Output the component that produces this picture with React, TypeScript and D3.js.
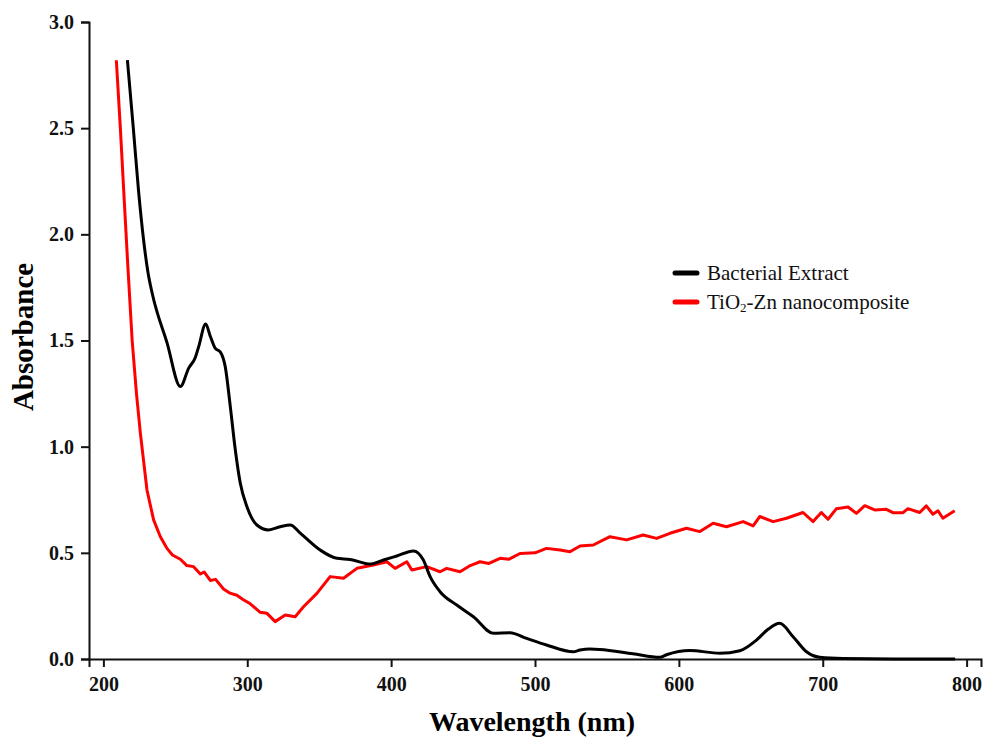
import React, { useEffect, useRef } from "react";
import * as d3 from "d3";

// Bacterial Extract (black)
const extractNm = [216.7, 220.8, 224.5, 228, 231, 234, 244.2, 253.5, 259.3, 263.9, 266.2, 271.1, 274.3, 277.8, 281.2, 284.7, 288.2, 291.7, 295.1, 299.8, 306.7, 314.8, 322.9, 329.9, 336.8, 350.7, 362.3, 371.5, 385.4, 394.7, 403.9, 415.5, 422.4, 427.1, 434, 445.6, 457.2, 471, 482.6, 494.2, 508, 526.6, 531.3, 538, 545, 568, 586.8, 591.4, 607.6, 628.5, 642.4, 653.9, 662, 670.1, 679.4, 688.7, 697.9, 714, 750, 792];
const extractAbs = [2.82, 2.5, 2.2, 1.97, 1.82, 1.72, 1.49, 1.283, 1.37, 1.42, 1.47, 1.578, 1.52, 1.463, 1.447, 1.377, 1.19, 0.984, 0.83, 0.717, 0.631, 0.608, 0.623, 0.631, 0.593, 0.513, 0.474, 0.469, 0.447, 0.466, 0.485, 0.509, 0.466, 0.388, 0.317, 0.254, 0.199, 0.121, 0.124, 0.097, 0.066, 0.034, 0.042, 0.047, 0.045, 0.025, 0.008, 0.02, 0.04, 0.027, 0.039, 0.089, 0.14, 0.168, 0.105, 0.034, 0.008, 0.002, 0, 0];

// TiO2-Zn nanocomposite (red)
const compositeNm = [209, 211.8, 214.5, 217, 220, 223, 225.7, 230.3, 234.9, 239.6, 244.2, 248, 253.5, 258, 262.7, 267.4, 270, 274.3, 278, 283.5, 288, 292.8, 297, 302.1, 309, 313.7, 319.4, 326.4, 333.3, 339.1, 348.4, 357.6, 366.9, 376.2, 387.7, 397, 402.8, 410.9, 414.4, 424.7, 434, 438.6, 447.9, 455, 461.8, 468, 475.7, 482, 489.6, 500, 508, 517.4, 524.3, 531.3, 540.5, 552.1, 563.7, 575.2, 584.5, 593.8, 605.3, 614.6, 623.8, 633.1, 644.7, 651.6, 656.2, 665.5, 674.8, 686.3, 693.3, 699, 703.7, 709.5, 717.6, 723.4, 729.2, 736.1, 744.2, 748.8, 755.8, 759.2, 767.4, 772, 776.6, 780.1, 783.5, 791.7];
const compositeAbs = [2.82, 2.5, 2.16, 1.85, 1.5, 1.25, 1.064, 0.796, 0.655, 0.576, 0.521, 0.49, 0.47, 0.44, 0.435, 0.4, 0.41, 0.37, 0.375, 0.33, 0.31, 0.3, 0.28, 0.26, 0.22, 0.215, 0.176, 0.207, 0.199, 0.246, 0.309, 0.388, 0.38, 0.427, 0.443, 0.458, 0.427, 0.458, 0.419, 0.435, 0.411, 0.427, 0.411, 0.44, 0.458, 0.45, 0.474, 0.47, 0.497, 0.5, 0.521, 0.513, 0.505, 0.532, 0.537, 0.576, 0.561, 0.584, 0.568, 0.592, 0.616, 0.6, 0.639, 0.623, 0.647, 0.627, 0.671, 0.647, 0.663, 0.69, 0.647, 0.69, 0.658, 0.708, 0.716, 0.686, 0.722, 0.702, 0.705, 0.689, 0.689, 0.708, 0.69, 0.721, 0.682, 0.698, 0.663, 0.698];

const xTicks = [200, 300, 400, 500, 600, 700, 800];
const yTicks = [0, 0.5, 1.0, 1.5, 2.0, 2.5, 3.0];

const W = 984;
const H = 738;
const margin = { left: 89, right: 3, top: 22, bottom: 79 };
const serif = "'Liberation Serif', 'Times New Roman', serif";

export default function App() {
  const ref = useRef<SVGSVGElement>(null);

  useEffect(() => {
    const svg = d3.select(ref.current);
    svg.selectAll("*").remove();

    const x = d3.scaleLinear().domain([190, 810]).range([margin.left, W - margin.right]);
    const y = d3.scaleLinear().domain([0, 3]).range([H - margin.bottom, margin.top]);

    // axes
    const xMinor = d3.range(250, 800, 100);
    const yMinor = d3.range(0.25, 3, 0.5);

    const gx = svg.append("g").attr("transform", `translate(0,${H - margin.bottom})`);
    gx.call(d3.axisBottom(x).tickValues(xMinor).tickSize(4).tickFormat(() => ""));
    gx.call(d3.axisBottom(x).tickValues(xTicks).tickSize(8).tickPadding(10).tickFormat(d3.format("d")));
    gx.selectAll(".domain").attr("stroke-width", 2);

    const gy = svg.append("g").attr("transform", `translate(${margin.left},0)`);
    gy.call(d3.axisLeft(y).tickValues(yMinor).tickSize(4).tickFormat(() => ""));
    gy.call(d3.axisLeft(y).tickValues(yTicks).tickSize(8).tickPadding(7).tickFormat(d3.format(".1f")));
    gy.selectAll(".domain").attr("stroke-width", 2);

    svg.selectAll(".tick line").attr("stroke", "#111").attr("stroke-width", 2);
    svg.selectAll(".domain").attr("stroke", "#111");
    svg.selectAll(".tick text")
      .attr("font-family", serif)
      .attr("font-weight", "bold")
      .attr("font-size", 20)
      .attr("fill", "#111");

    // axis titles
    svg.append("text")
      .attr("x", 532).attr("y", 731)
      .attr("text-anchor", "middle")
      .attr("font-family", serif).attr("font-weight", "bold").attr("font-size", 28)
      .text("Wavelength (nm)");
    svg.append("text")
      .attr("transform", "translate(33,337) rotate(-90)")
      .attr("text-anchor", "middle")
      .attr("font-family", serif).attr("font-weight", "bold").attr("font-size", 29)
      .text("Absorbance");

    // curves
    const smooth = d3.line<number>()
      .x((d, i) => x(extractNm[i]))
      .y(d => y(d))
      .curve(d3.curveMonotoneX);
    const jagged = d3.line<number>()
      .x((d, i) => x(compositeNm[i]))
      .y(d => y(d));

    svg.append("path").datum(compositeAbs)
      .attr("d", jagged).attr("fill", "none")
      .attr("stroke", "#ff0000").attr("stroke-width", 3).attr("stroke-linejoin", "round");
    svg.append("path").datum(extractAbs)
      .attr("d", smooth).attr("fill", "none")
      .attr("stroke", "#000").attr("stroke-width", 3).attr("stroke-linejoin", "round");

    // legend
    const legend = svg.append("g").attr("transform", "translate(675,273)");
    [["#000", "Bacterial Extract"], ["#ff0000", null]].forEach(([color, label], i) => {
      legend.append("line")
        .attr("x1", 0).attr("x2", 22).attr("y1", i * 29).attr("y2", i * 29)
        .attr("stroke", color).attr("stroke-width", 5).attr("stroke-linecap", "round");
      const t = legend.append("text")
        .attr("x", 32).attr("y", i * 29 + 7)
        .attr("font-family", serif).attr("font-size", 21).attr("fill", "#111");
      if (label) t.text(label);
      else {
        t.append("tspan").text("TiO");
        t.append("tspan").attr("font-size", 13).attr("dy", 3).text("2");
        t.append("tspan").attr("dy", -3).text("-Zn nanocomposite");
      }
    });
  }, []);

  return (
    <svg ref={ref} width={W} height={H}
      style={{ position: "absolute", left: 0, top: 0, background: "#fff" }} />
  );
}
